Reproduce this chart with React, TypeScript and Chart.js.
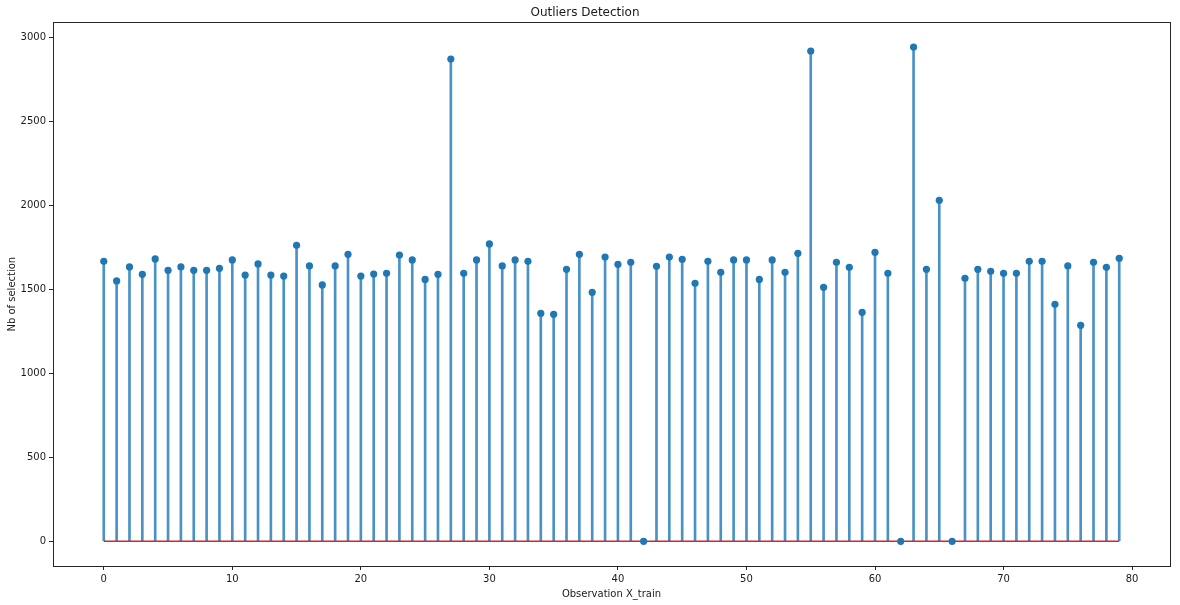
import React, { useEffect, useRef } from "react";
import { Chart, registerables } from "chart.js";

Chart.register(...registerables);

const observations: number[] = Array.from({ length: 80 }, (_, i) => i);
const selectionCounts: number[] = [
  1666, 1549, 1632, 1588, 1680, 1612, 1632, 1612, 1612, 1624,
  1674, 1584, 1650, 1584, 1578, 1761, 1638, 1525, 1638, 1707,
  1578, 1590, 1594, 1703, 1674, 1558, 1588, 2869, 1594, 1674,
  1769, 1638, 1674, 1666, 1356, 1350, 1618, 1707, 1481, 1691,
  1648, 1660, 0, 1636, 1691, 1678, 1535, 1666, 1600, 1674,
  1674, 1558, 1674, 1600, 1713, 2917, 1511, 1660, 1630, 1362,
  1719, 1594, 0, 2940, 1618, 2029, 0, 1565, 1618, 1606,
  1594, 1594, 1666, 1666, 1410, 1638, 1285, 1660, 1630, 1684,
];
const xTicks: number[] = [0, 10, 20, 30, 40, 50, 60, 70, 80];
const yTicks: number[] = [0, 500, 1000, 1500, 2000, 2500, 3000];

const FONT = "'DejaVu Sans', sans-serif";
const TEXT = "#1a1a1a";
const AXIS = "#262626";

const frame = {
  id: "frame",
  afterDatasetsDraw(chart: any) {
    const { ctx, chartArea } = chart;
    ctx.save();
    ctx.strokeStyle = AXIS;
    ctx.lineWidth = 1;
    ctx.strokeRect(
      Math.round(chartArea.left) + 0.5,
      Math.round(chartArea.top) + 0.5,
      Math.round(chartArea.right - chartArea.left),
      Math.round(chartArea.bottom - chartArea.top)
    );
    ctx.restore();
  },
};

export default function App() {
  const ref = useRef<HTMLCanvasElement | null>(null);

  useEffect(() => {
    document.body.style.margin = "0";
    if (!ref.current) return;
    const pts = observations.map((x, i) => ({ x, y: selectionCounts[i] }));
    const chart = new Chart(ref.current, {
      type: "bar",
      data: {
        datasets: [
          {
            type: "scatter",
            data: pts,
            backgroundColor: "#1f77b4",
            borderColor: "#1f77b4",
            pointRadius: 3.6,
            pointBorderWidth: 0,
            order: 0,
          } as any,
          {
            type: "line",
            data: [
              { x: observations[0], y: 0 },
              { x: observations[observations.length - 1], y: 0 },
            ],
            borderColor: "#d62728",
            borderWidth: 1.6,
            pointRadius: 0,
            order: 1,
          } as any,
          {
            type: "bar",
            data: pts,
            backgroundColor: "#4a92c6",
            barThickness: 2,
            grouped: false,
            order: 2,
          } as any,
        ],
      },
      options: {
        responsive: false,
        animation: false,
        layout: { padding: { left: 0, right: 10, top: 0, bottom: 0 } },
        plugins: {
          legend: { display: false },
          tooltip: { enabled: false },
          title: {
            display: true,
            text: "Outliers Detection",
            color: TEXT,
            font: { family: FONT, size: 12, weight: "normal" },
            padding: { top: 6, bottom: 2 },
          },
        },
        scales: {
          x: {
            type: "linear",
            offset: false,
            min: -3.95,
            max: 82.95,
            afterBuildTicks: (s: any) => {
              s.ticks = xTicks.map((v) => ({ value: v }));
            },
            afterFit: (s: any) => {
              s.height = 39;
            },
            grid: {
              display: true,
              offset: false,
              drawOnChartArea: false,
              drawTicks: true,
              tickLength: 4,
              color: AXIS,
            },
            border: { display: true, color: AXIS },
            ticks: {
              color: TEXT,
              font: { family: FONT, size: 10 },
              padding: 3,
              maxRotation: 0,
              autoSkip: false,
              callback: (v: any) => String(v),
            },
            title: {
              display: true,
              text: "Observation X_train",
              color: TEXT,
              font: { family: FONT, size: 10 },
              padding: { top: 2, bottom: 5 },
            },
          },
          y: {
            type: "linear",
            min: -147,
            max: 3087,
            afterBuildTicks: (s: any) => {
              s.ticks = yTicks.map((v) => ({ value: v }));
            },
            afterFit: (s: any) => {
              s.width = 53;
            },
            grid: {
              display: true,
              drawOnChartArea: false,
              drawTicks: true,
              tickLength: 4,
              color: AXIS,
            },
            border: { display: true, color: AXIS },
            ticks: {
              color: TEXT,
              font: { family: FONT, size: 10 },
              padding: 3,
              autoSkip: false,
              callback: (v: any) => String(v),
            },
            title: {
              display: true,
              text: "Nb of selection",
              color: TEXT,
              font: { family: FONT, size: 10 },
              padding: { top: 6, bottom: 4 },
            },
          },
        },
      } as any,
      plugins: [frame],
    });
    return () => chart.destroy();
  }, []);

  return (
    <div style={{ width: 1180, height: 605, background: "#fff" }}>
      <canvas ref={ref} width={1180} height={605} style={{ display: "block" }} />
    </div>
  );
}
